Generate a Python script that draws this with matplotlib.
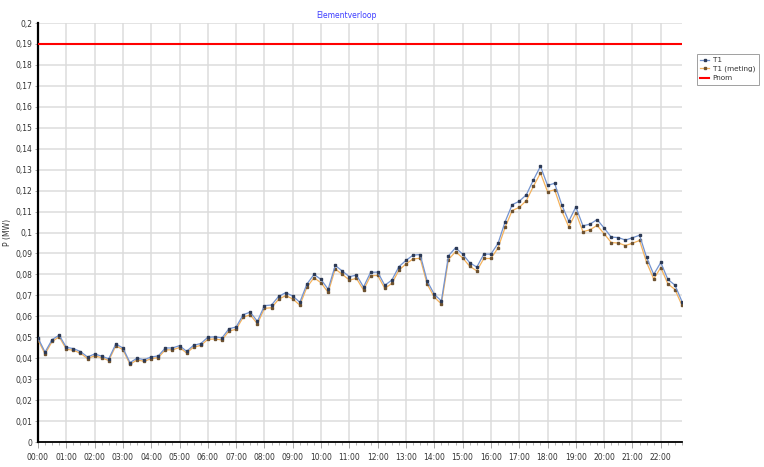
import matplotlib
matplotlib.use("Agg")
import matplotlib.pyplot as plt
from matplotlib.lines import Line2D
import numpy as np

#===============================================================
#=               Step 0: Data (kwartierwaarden, MW)            =
#===============================================================
t1 = [0.0497, 0.0429, 0.0489, 0.0510, 0.0452, 0.0446, 0.0432, 0.0406,
      0.0420, 0.0410, 0.0397, 0.0468, 0.0449, 0.0379, 0.0400, 0.0393,
      0.0406, 0.0411, 0.0449, 0.0449, 0.0460, 0.0433, 0.0462, 0.0470,
      0.0500, 0.0502, 0.0497, 0.0541, 0.0549, 0.0608, 0.0620, 0.0576,
      0.0651, 0.0654, 0.0695, 0.0713, 0.0697, 0.0667, 0.0754, 0.0800,
      0.0776, 0.0729, 0.0843, 0.0816, 0.0789, 0.0797, 0.0740, 0.0810,
      0.0811, 0.0748, 0.0773, 0.0837, 0.0867, 0.0892, 0.0895, 0.0768,
      0.0705, 0.0673, 0.0889, 0.0927, 0.0897, 0.0856, 0.0835, 0.0897,
      0.0897, 0.0948, 0.1051, 0.1133, 0.1149, 0.1180, 0.1251, 0.1316,
      0.1225, 0.1235, 0.1133, 0.1054, 0.1122, 0.1032, 0.1040, 0.1062,
      0.1021, 0.0978, 0.0976, 0.0964, 0.0975, 0.0987, 0.0881, 0.0800,
      0.0857, 0.0776, 0.0749, 0.0670]

t1_meting = [0.0488, 0.0420, 0.0480, 0.0502, 0.0443, 0.0438, 0.0424, 0.0398,
             0.0412, 0.0402, 0.0389, 0.0459, 0.0441, 0.0371, 0.0392, 0.0385,
             0.0398, 0.0403, 0.0440, 0.0440, 0.0451, 0.0425, 0.0453, 0.0461,
             0.0490, 0.0492, 0.0487, 0.0530, 0.0538, 0.0596, 0.0607, 0.0564,
             0.0638, 0.0641, 0.0681, 0.0699, 0.0683, 0.0653, 0.0739, 0.0784,
             0.0760, 0.0714, 0.0826, 0.0800, 0.0773, 0.0781, 0.0725, 0.0794,
             0.0795, 0.0733, 0.0757, 0.0820, 0.0850, 0.0874, 0.0877, 0.0753,
             0.0691, 0.0659, 0.0871, 0.0908, 0.0879, 0.0839, 0.0817, 0.0876,
             0.0876, 0.0926, 0.1024, 0.1105, 0.1120, 0.1152, 0.1220, 0.1284,
             0.1195, 0.1204, 0.1104, 0.1027, 0.1094, 0.1004, 0.1013, 0.1034,
             0.0994, 0.0952, 0.0950, 0.0938, 0.0949, 0.0962, 0.0857, 0.0778,
             0.0833, 0.0755, 0.0728, 0.0652]

pnom = 0.19
hours = np.arange(len(t1)) * 0.25          # 00:00 .. 22:45
hour_labels = ["%02d:00" % h for h in range(23)]
y_ticks = [round(v * 0.01, 2) for v in range(21)]

#===============================================================
#=               Step 1: Plot                                  =
#===============================================================
fig = plt.figure(figsize=(7.64, 4.67), dpi=100)
ax = fig.add_axes([0.0497, 0.0535, 0.843, 0.8972])

txt = "#333333"
ax.plot(hours, t1_meting, color="#f4b25c", linewidth=0.9, marker="s",
        markersize=1.8, markerfacecolor="#6e5230", markeredgecolor="#6e5230",
        zorder=3)
ax.plot(hours, t1, color="#7393cf", linewidth=0.9, marker="s",
        markersize=1.8, markerfacecolor="#2d3a55", markeredgecolor="#2d3a55",
        zorder=4)
ax.axhline(pnom, color="#ff0000", linewidth=1.5, zorder=5)

ax.set_xlim(0, hours[-1])
ax.set_ylim(0, 0.2)
ax.set_xticks(range(23))
ax.set_xticklabels(hour_labels)
ax.set_xticks(np.arange(0, hours[-1] + 0.01, 0.25), minor=True)
ax.set_yticks(y_ticks)
ax.set_yticklabels([("%g" % v).replace(".", ",") for v in y_ticks])

ax.grid(True, which="major", color="#dcdcdc", linewidth=1.1)
ax.set_axisbelow(True)
for s in ["top", "right"]:
    ax.spines[s].set_visible(False)
ax.spines["left"].set_linewidth(1.6)
ax.spines["bottom"].set_linewidth(1.3)

ax.tick_params(axis="x", which="major", labelsize=5.5, colors="#999999",
               labelcolor=txt, length=4, width=0.6, pad=4)
ax.tick_params(axis="x", which="minor", colors="#999999", length=2, width=0.5)
ax.tick_params(axis="y", labelsize=5.5, colors="#999999", labelcolor=txt,
               length=2, width=0.6, pad=2)

ax.set_ylabel("P (MW)", fontsize=5.5, color=txt)
ax.yaxis.set_label_coords(-0.041, 0.5)
fig.text(0.453, 0.966, "Elementverloop", fontsize=5.5, color="#3c3cff",
         ha="center", va="center")

handles = [
    Line2D([], [], color="#7393cf", linewidth=0.9, marker="s", markersize=1.8,
           markerfacecolor="#2d3a55", markeredgecolor="#2d3a55"),
    Line2D([], [], color="#f4b25c", linewidth=0.9, marker="s", markersize=1.8,
           markerfacecolor="#6e5230", markeredgecolor="#6e5230"),
    Line2D([], [], color="#ff0000", linewidth=1.5),
]
leg = fig.legend(handles, ["T1", "T1 (meting)", "Pnom"], loc="upper left",
                 bbox_to_anchor=(0.912, 0.885), fontsize=5.2, frameon=True,
                 fancybox=False, handlelength=1.2, handletextpad=0.5,
                 borderpad=0.5, labelspacing=0.35, borderaxespad=0)
leg.get_frame().set_edgecolor("#888888")
leg.get_frame().set_linewidth(0.7)
for t in leg.get_texts():
    t.set_color(txt)

plt.savefig("out.png", dpi=100)
